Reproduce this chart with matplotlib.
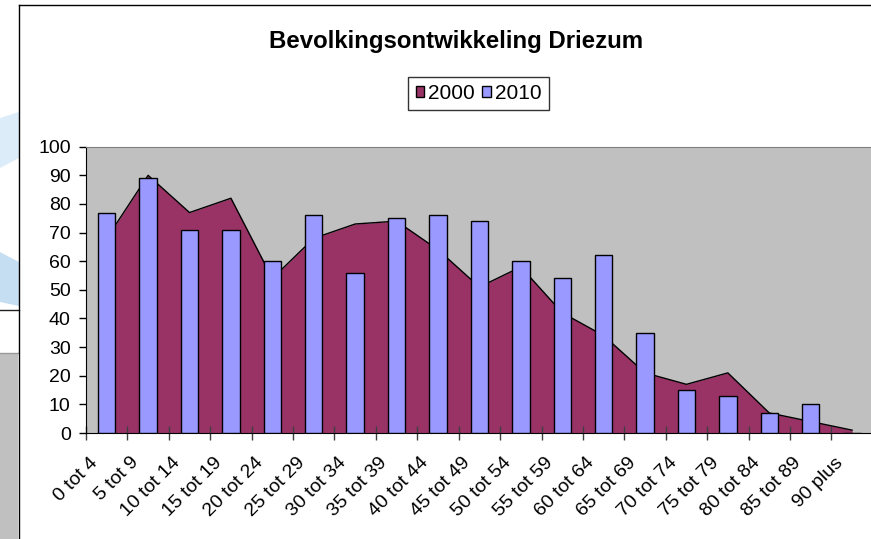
import matplotlib
matplotlib.use("Agg")
import matplotlib.pyplot as plt
from matplotlib.patches import Patch, Rectangle, Polygon
from matplotlib.lines import Line2D

plt.rcParams['font.family'] = ['Liberation Sans', 'DejaVu Sans']

categories = ['0 tot 4', '5 tot 9', '10 tot 14', '15 tot 19', '20 tot 24',
              '25 tot 29', '30 tot 34', '35 tot 39', '40 tot 44', '45 tot 49',
              '50 tot 54', '55 tot 59', '60 tot 64', '65 tot 69', '70 tot 74',
              '75 tot 79', '80 tot 84', '85 tot 89', '90 plus']
v2000 = [68, 90, 77, 82, 54, 68, 73, 74, 64, 51, 58, 42, 34, 21, 17, 21, 7, 4, 1]
v2010 = [77, 89, 71, 71, 60, 76, 56, 75, 76, 74, 60, 54, 62, 35, 15, 13, 7, 10, 0]
yticks = list(range(0, 101, 10))

W, H = 871, 539
fig = plt.figure(figsize=(W / 100, H / 100), dpi=100)
fig.patch.set_facecolor('white')

# bits of the web page left of the chart frame
fig.add_artist(Polygon([(0, 1 - 118 / H), (19 / W, 1 - 112 / H), (19 / W, 1 - 158 / H), (0, 1 - 168 / H)],
                       closed=True, transform=fig.transFigure, facecolor='#dcecf8', edgecolor='none'))
fig.add_artist(Polygon([(0, 1 - 252 / H), (19 / W, 1 - 262 / H), (19 / W, 1 - 306 / H), (0, 1 - 302 / H)],
                       closed=True, transform=fig.transFigure, facecolor='#c6def2', edgecolor='none'))
fig.add_artist(Line2D([0, 19 / W], [1 - 310 / H, 1 - 310 / H], transform=fig.transFigure, color='#202020', lw=1))
fig.add_artist(Rectangle((0, 0), 18 / W, 1 - 353 / H, transform=fig.transFigure,
                         facecolor='#c0c0c0', edgecolor='none'))
fig.add_artist(Line2D([0, 18 / W], [1 - 353 / H, 1 - 353 / H], transform=fig.transFigure, color='#999999', lw=1))

# chart frame
fig.add_artist(Line2D([19 / W, 19 / W], [0, 1 - 4.5 / H], transform=fig.transFigure, color='black', lw=1))
fig.add_artist(Line2D([19 / W, 1], [1 - 4.5 / H, 1 - 4.5 / H], transform=fig.transFigure, color='black', lw=1))

ax = fig.add_axes([86 / W, (H - 433) / H, 786.8 / W, 286.3 / H])
ax.set_facecolor('#c0c0c0')

x = list(range(len(categories)))
ax.fill_between(x, v2000, 0, color='#993366', lw=0, zorder=1)
ax.plot(x, v2000, color='black', lw=1, zorder=2)
ax.bar(x, v2010, width=0.42, color='#9999ff', edgecolor='black', lw=1, zorder=3)

ax.set_xlim(-0.5, len(categories) - 0.5)
ax.set_ylim(0, 100)
ax.set_yticks(yticks)
ax.tick_params(axis='y', direction='out', length=5, width=1, pad=6, labelsize=14, colors='black')

ax.set_xticks(x)
ax.set_xticklabels([])
ax.tick_params(axis='x', which='major', length=0)
ax.set_xticks([k - 0.5 for k in range(len(categories) + 1)], minor=True)
ax.tick_params(axis='x', which='minor', direction='inout', length=9.5, width=1, color='#404040')

for k, lbl in enumerate(categories):
    ax.annotate(lbl, xy=(k, 0), xycoords=('data', 'axes fraction'),
                xytext=(-8.5, -19.5), textcoords='offset points',
                rotation=45, ha='right', va='center', rotation_mode='anchor',
                fontsize=14, annotation_clip=False)

for s in ['left', 'bottom']:
    ax.spines[s].set_color('black')
for s in ['top', 'right']:
    ax.spines[s].set_color('#808080')

fig.text(456 / W, 1 - 48 / H, 'Bevolkingsontwikkeling Driezum', ha='center', va='baseline',
         fontsize=17.3, fontweight='bold')

handles = [Patch(facecolor='#993366', edgecolor='black', lw=1, label='2000'),
           Patch(facecolor='#9999ff', edgecolor='black', lw=1, label='2010')]
leg = fig.legend(handles=handles, loc='center', bbox_to_anchor=(478.5 / W, 1 - 93.5 / H),
                 ncol=2, fontsize=15, frameon=True, fancybox=False, shadow=False,
                 handlelength=0.4, handleheight=0.4, handletextpad=0.2,
                 columnspacing=0.35, borderpad=0.35, borderaxespad=0)
leg.get_frame().set_edgecolor('black')
leg.get_frame().set_linewidth(1)

fig.savefig('out.png', dpi=100)
